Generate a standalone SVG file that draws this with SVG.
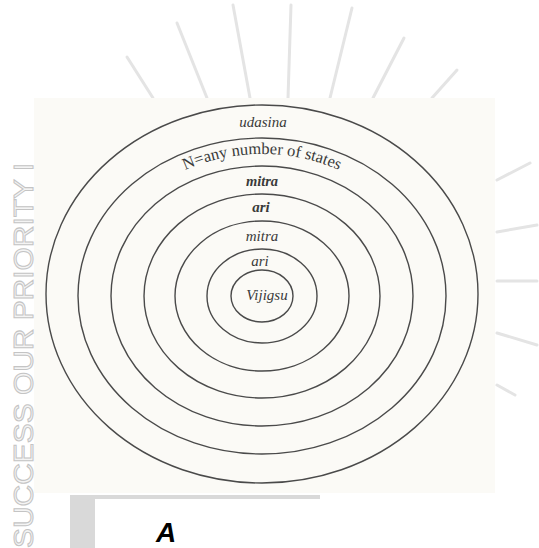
<svg xmlns="http://www.w3.org/2000/svg" width="539" height="548" viewBox="0 0 539 548">
<style>
.ring{fill:none;stroke:#4a4a4a;stroke-width:1.4}
.lbl{font-family:"Liberation Serif","DejaVu Serif",serif;font-style:italic;fill:#3a3a3a;text-anchor:middle}
.ray{stroke:#e4e4e4;stroke-width:3;stroke-linecap:round}
.wm{font-family:"Liberation Sans",Arial,sans-serif;font-size:28px;fill:#f4f4f4;stroke:#c4c4c4;stroke-width:1}
</style>
<defs>
<path id="arcN" d="M 95,297 A 167,143 0 0 1 429,297"/>
</defs>
<rect width="539" height="548" fill="#ffffff"/>
<g id="rays">
<line class="ray" x1="127" y1="57" x2="153" y2="98"/>
<line class="ray" x1="177" y1="23" x2="207" y2="98"/>
<line class="ray" x1="233" y1="5" x2="250" y2="98"/>
<line class="ray" x1="291" y1="5" x2="288" y2="98"/>
<line class="ray" x1="352" y1="8" x2="330" y2="98"/>
<line class="ray" x1="404" y1="38" x2="373" y2="98"/>
<line class="ray" x1="457" y1="70" x2="432" y2="98"/>
<line class="ray" x1="497" y1="180" x2="530" y2="163"/>
<line class="ray" x1="497" y1="232" x2="537" y2="225"/>
<line class="ray" x1="497" y1="281" x2="537" y2="281"/>
<line class="ray" x1="497" y1="333" x2="537" y2="345"/>
<line class="ray" x1="497" y1="385" x2="515" y2="395"/>
</g>
<rect x="34" y="98" width="461" height="395" fill="#fbfaf6"/>
<text class="wm" transform="translate(33,548) rotate(-90)" textLength="385" lengthAdjust="spacingAndGlyphs">SUCCESS OUR PRIORITY I</text>
<g id="ring-udasina">
<ellipse class="ring" cx="262" cy="294" rx="216" ry="189"/>
<text class="lbl" x="263" y="127" font-size="15">udasina</text>
</g>
<g id="ring-n-states">
<ellipse class="ring" cx="262" cy="296" rx="184" ry="158"/>
<text font-family="Liberation Serif,DejaVu Serif,serif" font-size="16.5" fill="#3a3a3a" text-anchor="middle"><textPath href="#arcN" startOffset="50%">N=any number of states</textPath></text>
</g>
<g id="ring-mitra-outer">
<ellipse class="ring" cx="262" cy="296" rx="151" ry="130"/>
<text class="lbl" x="262" y="186" font-size="14.5" font-weight="bold">mitra</text>
</g>
<g id="ring-ari-outer">
<ellipse class="ring" cx="262" cy="296" rx="118" ry="102"/>
<text class="lbl" x="261" y="212" font-size="15" font-weight="bold">ari</text>
</g>
<g id="ring-mitra-inner">
<ellipse class="ring" cx="262" cy="296" rx="87" ry="75"/>
<text class="lbl" x="262" y="241" font-size="15">mitra</text>
</g>
<g id="ring-ari-inner">
<ellipse class="ring" cx="262" cy="296" rx="55" ry="47"/>
<text class="lbl" x="260" y="266" font-size="15">ari</text>
</g>
<g id="node-vijigsu">
<ellipse class="ring" cx="262" cy="296" rx="31" ry="26"/>
<text class="lbl" x="267" y="300" font-size="15">Vijigsu</text>
</g>
<g id="caption">
<rect x="70" y="495" width="250" height="53" fill="#d9d9d9"/>
<rect x="95" y="499" width="444" height="49" fill="#ffffff"/>
<text x="156" y="542" font-family="Liberation Sans,Arial,sans-serif" font-size="28" font-weight="bold" font-style="italic" fill="#000000">A</text>
</g>
<g id="connectors"/>
</svg>
